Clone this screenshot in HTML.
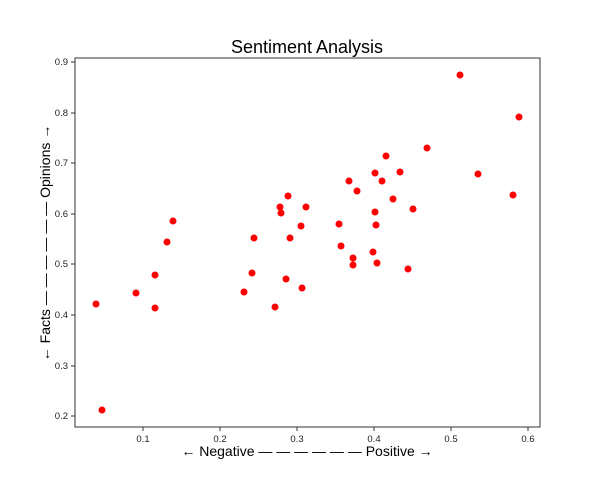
<!DOCTYPE html>
<html><head><meta charset="utf-8"><style>body{margin:0;background:#fff}svg{display:block}</style></head><body>
<svg width="600" height="480" viewBox="0 0 600 480" xmlns="http://www.w3.org/2000/svg" font-family="Liberation Sans, DejaVu Sans, sans-serif">
<rect width="600" height="480" fill="#fff"/>
<text x="307" y="53" font-size="18" text-anchor="middle" fill="#000">Sentiment Analysis</text>
<rect x="75" y="58" width="465" height="369" fill="none" stroke="#333" stroke-width="1"/>
<g stroke="#333" stroke-width="1">
<line x1="143" y1="427" x2="143" y2="431"/><line x1="220" y1="427" x2="220" y2="431"/><line x1="297" y1="427" x2="297" y2="431"/><line x1="374" y1="427" x2="374" y2="431"/><line x1="451" y1="427" x2="451" y2="431"/><line x1="528" y1="427" x2="528" y2="431"/>
<line x1="71" y1="62" x2="75" y2="62"/><line x1="71" y1="113" x2="75" y2="113"/><line x1="71" y1="163" x2="75" y2="163"/><line x1="71" y1="214" x2="75" y2="214"/><line x1="71" y1="264" x2="75" y2="264"/><line x1="71" y1="315" x2="75" y2="315"/><line x1="71" y1="366" x2="75" y2="366"/><line x1="71" y1="416" x2="75" y2="416"/>
</g>
<g font-size="9.5" fill="#222" text-anchor="middle">
<text x="143" y="442">0.1</text><text x="220" y="442">0.2</text><text x="297" y="442">0.3</text><text x="374" y="442">0.4</text><text x="451" y="442">0.5</text><text x="528" y="442">0.6</text>
</g>
<g font-size="9.5" fill="#222" text-anchor="end">
<text x="68" y="65">0.9</text><text x="68" y="116">0.8</text><text x="68" y="166">0.7</text><text x="68" y="217">0.6</text><text x="68" y="267">0.5</text><text x="68" y="318">0.4</text><text x="68" y="369">0.3</text><text x="68" y="419">0.2</text>
</g>
<text x="307" y="456" font-size="14" text-anchor="middle" fill="#000">← Negative — — — — — — Positive →</text>
<text transform="translate(50,243) rotate(-90)" font-size="14" text-anchor="middle" fill="#000">← Facts — — — — — — Opinions →</text>
<g fill="#ff0000">
<circle cx="96" cy="304" r="3.5"/><circle cx="102" cy="410" r="3.5"/><circle cx="136" cy="293" r="3.5"/><circle cx="155" cy="275" r="3.5"/><circle cx="155" cy="308" r="3.5"/><circle cx="167" cy="242" r="3.5"/><circle cx="173" cy="221" r="3.5"/><circle cx="244" cy="292" r="3.5"/><circle cx="252" cy="273" r="3.5"/><circle cx="254" cy="238" r="3.5"/><circle cx="275" cy="307" r="3.5"/><circle cx="280" cy="207" r="3.5"/><circle cx="281" cy="213" r="3.5"/><circle cx="286" cy="279" r="3.5"/><circle cx="288" cy="196" r="3.5"/><circle cx="290" cy="238" r="3.5"/><circle cx="302" cy="288" r="3.5"/><circle cx="301" cy="226" r="3.5"/><circle cx="306" cy="207" r="3.5"/><circle cx="339" cy="224" r="3.5"/><circle cx="341" cy="246" r="3.5"/><circle cx="349" cy="181" r="3.5"/><circle cx="353" cy="258" r="3.5"/><circle cx="353" cy="265" r="3.5"/><circle cx="357" cy="191" r="3.5"/><circle cx="373" cy="252" r="3.5"/><circle cx="375" cy="173" r="3.5"/><circle cx="375" cy="212" r="3.5"/><circle cx="376" cy="225" r="3.5"/><circle cx="377" cy="263" r="3.5"/><circle cx="382" cy="181" r="3.5"/><circle cx="386" cy="156" r="3.5"/><circle cx="393" cy="199" r="3.5"/><circle cx="400" cy="172" r="3.5"/><circle cx="408" cy="269" r="3.5"/><circle cx="413" cy="209" r="3.5"/><circle cx="427" cy="148" r="3.5"/><circle cx="460" cy="75" r="3.5"/><circle cx="478" cy="174" r="3.5"/><circle cx="513" cy="195" r="3.5"/><circle cx="519" cy="117" r="3.5"/>
</g>
</svg>
</body></html>
